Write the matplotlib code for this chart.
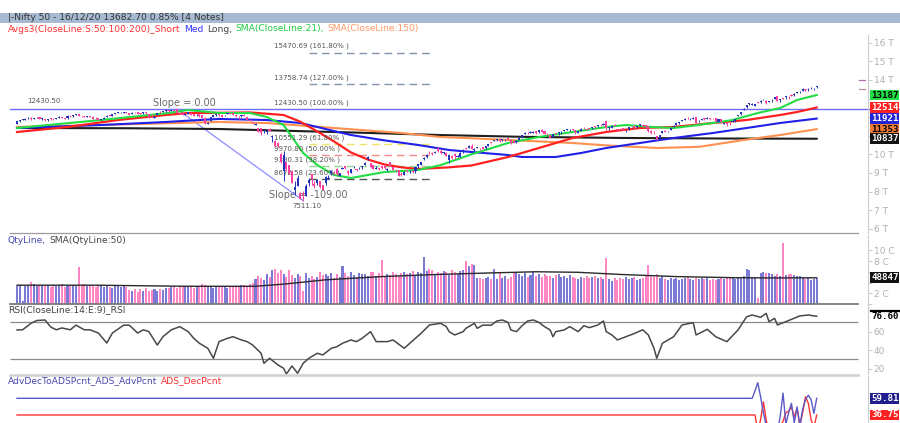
import numpy as np
import matplotlib.pyplot as plt
from matplotlib.lines import Line2D
from matplotlib.patches import Rectangle
import matplotlib.transforms as mtransforms

# Daily Nifty 50 candles, bar 0 = 29 Oct 2019 ... bar 285 = 16 Dec 2020
opens = [11650, 11800, 11860, 11870, 11930, 11960, 11920, 11990, 12000, 11900,
         11910, 11850, 11900, 11910, 11900, 11960, 11990, 11960, 11930, 12080,
         12050, 12130, 12140, 12070, 12050, 11990, 12050, 12030, 11940, 11950,
         11870, 11920, 12010, 12100, 12080, 12180, 12240, 12270, 12240, 12270,
         12210, 12160, 12270, 12250, 12200, 12200, 12260, 12170, 12080, 11940,
         12120, 12270, 12290, 12330, 12350, 12350, 12370, 12430, 12200, 12200,
         12120, 12180, 12200, 12150, 12100, 12150, 12100, 11940, 11630, 11800,
         12000, 12120, 12150, 12100, 12090, 12150, 12200, 12200, 12130, 12030,
         12040, 12120, 11980, 11870, 11740, 11580, 11390, 11390, 11290, 11180,
         11360, 10940, 10740, 10600, 10040, 9110, 9590, 9400, 9090, 8060,
         8290, 7940, 7850, 7740, 8450, 8950, 8390, 8470, 8580, 8360,
         8450, 8690, 8970, 9000, 9200, 8850, 9210, 9390, 9120, 8990,
         9300, 9170, 9240, 9300, 9410, 9750, 9530, 9420, 9230, 9260,
         9380, 9350, 9160, 9580, 9310, 9180, 9160, 8960, 8900, 9120,
         9030, 9100, 9080, 9370, 9420, 9730, 9880, 10080, 10060, 10060,
         10330, 10180, 10070, 10090, 9680, 9920, 10010, 9880, 9860, 10120,
         10320, 10350, 10470, 10240, 10340, 10320, 10380, 10330, 10470, 10610,
         10720, 10770, 10820, 10760, 10760, 10850, 10750, 10700, 10640, 10750,
         10920, 11090, 11170, 11150, 11150, 11230, 11180, 11280, 11250, 11110,
         11060, 10950, 11150, 11120, 11190, 11250, 11320, 11290, 11340, 11310,
         11160, 11250, 11410, 11370, 11380, 11400, 11500, 11500, 11580, 11600,
         11780, 11430, 11420, 11600, 11350, 11360, 11400, 11230, 11340, 11460,
         11540, 11450, 11550, 11560, 11550, 11530, 11230, 11170, 11000, 10860,
         11140, 11270, 11230, 11300, 11490, 11560, 11680, 11790, 11850, 11970,
         11930, 11920, 11990, 11730, 11840, 11900, 11920, 11930, 11940, 11940,
         11730, 11880, 11630, 11680, 11700, 11720, 11780, 12060, 12160, 12400,
         12560, 12680, 12650, 12610, 12830, 12830, 12900, 12880, 12810, 12910,
         12970, 13130, 12910, 13010, 13060, 13120, 13150, 13180, 13270, 13390,
         13430, 13490, 13490, 13540, 13550, 13600]
highs = [11800, 11860, 11920, 11930, 11980, 11980, 11970, 12030, 12020, 11940,
         11920, 11900, 11930, 11950, 11960, 12040, 12020, 11970, 12090, 12090,
         12110, 12160, 12150, 12080, 12060, 12050, 12080, 12040, 11990, 11960,
         11920, 11990, 12100, 12120, 12180, 12230, 12270, 12290, 12290, 12280,
         12220, 12260, 12290, 12250, 12220, 12290, 12270, 12180, 12150, 12050,
         12230, 12310, 12340, 12380, 12360, 12390, 12390, 12430, 12230, 12230,
         12190, 12270, 12220, 12160, 12160, 12150, 12100, 12020, 11750, 11990,
         12100, 12160, 12160, 12100, 12130, 12230, 12230, 12250, 12160, 12050,
         12130, 12160, 12010, 11880, 11760, 11670, 11400, 11430, 11340, 11330,
         11390, 11030, 10750, 10670, 10050, 10160, 9600, 9400, 9130, 8580,
         8880, 8000, 8040, 8380, 8750, 8950, 8580, 8680, 8590, 8360,
         8820, 8900, 9130, 9110, 9260, 9000, 9320, 9390, 9140, 9220,
         9390, 9220, 9300, 9390, 9600, 9890, 9550, 9450, 9350, 9280,
         9390, 9440, 9250, 9580, 9320, 9190, 9160, 9030, 9090, 9180,
         9150, 9160, 9330, 9500, 9600, 9830, 9990, 10180, 10110, 10180,
         10330, 10290, 10150, 10110, 9990, 9940, 10050, 9970, 10110, 10270,
         10360, 10480, 10550, 10340, 10400, 10340, 10400, 10440, 10560, 10630,
         10780, 10820, 10850, 10820, 10800, 10890, 10760, 10760, 10760, 10910,
         11030, 11180, 11200, 11240, 11230, 11240, 11310, 11340, 11270, 11160,
         11060, 11110, 11160, 11210, 11230, 11290, 11370, 11340, 11370, 11310,
         11260, 11400, 11460, 11380, 11420, 11470, 11530, 11560, 11610, 11690,
         11800, 11490, 11550, 11610, 11380, 11420, 11440, 11300, 11460, 11490,
         11560, 11540, 11620, 11580, 11590, 11540, 11300, 11230, 11000, 11060,
         11240, 11280, 11260, 11430, 11580, 11680, 11750, 11850, 11940, 11990,
         11950, 11980, 12020, 11830, 11900, 11930, 12020, 11940, 11970, 11940,
         11900, 11880, 11700, 11710, 11730, 11820, 11920, 12130, 12280, 12470,
         12640, 12770, 12740, 12730, 12830, 12900, 12960, 12900, 12880, 12970,
         13080, 13150, 13000, 13040, 13130, 13130, 13220, 13280, 13370, 13430,
         13550, 13500, 13540, 13600, 13590, 13690]
lows = [11640, 11760, 11820, 11850, 11900, 11870, 11880, 11960, 11890, 11870,
        11810, 11800, 11860, 11860, 11880, 11950, 11950, 11880, 11920, 12000,
        12020, 12110, 12040, 12000, 11980, 11980, 12000, 11900, 11920, 11840,
        11830, 11910, 12000, 12040, 12060, 12160, 12200, 12240, 12230, 12200,
        12110, 12150, 12230, 12150, 12160, 12190, 12190, 11970, 12010, 11930,
        12110, 12230, 12260, 12300, 12280, 12330, 12320, 12200, 12150, 12090,
        12090, 12170, 12110, 12040, 12080, 12010, 11930, 11630, 11610, 11790,
        11980, 12080, 12070, 11990, 12060, 12140, 12140, 12090, 12030, 11910,
        12030, 12070, 11820, 11780, 11660, 11550, 11180, 11040, 11140, 11110,
        11230, 10670, 10400, 10380, 9510, 8560, 9160, 8920, 8440, 7830,
        8280, 7580, 7511, 7740, 8280, 8360, 8210, 8360, 8200, 8060,
        8360, 8690, 8910, 8960, 8880, 8830, 9190, 9200, 8910, 8990,
        9290, 9120, 9220, 9210, 9400, 9710, 9270, 9190, 9220, 9150,
        9230, 9230, 9120, 9370, 9130, 9060, 8810, 8820, 8880, 9070,
        8970, 9000, 9000, 9290, 9400, 9720, 9820, 10040, 9950, 10050,
        10120, 10020, 10040, 9890, 9540, 9730, 9730, 9840, 9840, 10070,
        10290, 10350, 10280, 10190, 10320, 10220, 10290, 10300, 10460, 10560,
        10700, 10720, 10680, 10740, 10720, 10780, 10580, 10590, 10600, 10750,
        10900, 11080, 11090, 11140, 11140, 11110, 11170, 11180, 11080, 11030,
        10880, 10930, 11070, 11050, 11110, 11230, 11300, 11250, 11280, 11110,
        11130, 11250, 11370, 11280, 11350, 11380, 11420, 11490, 11520, 11590,
        11330, 11330, 11400, 11500, 11250, 11310, 11290, 11190, 11330, 11410,
        11420, 11430, 11540, 11490, 11480, 11220, 11080, 11080, 10790, 10860,
        11120, 11180, 11180, 11290, 11460, 11560, 11640, 11780, 11830, 11900,
        11870, 11900, 11660, 11720, 11830, 11830, 11910, 11830, 11880, 11750,
        11720, 11720, 11610, 11540, 11560, 11710, 11760, 12050, 12130, 12370,
        12480, 12640, 12640, 12570, 12740, 12770, 12900, 12730, 12790, 12830,
        12960, 12840, 12830, 12950, 12960, 12980, 13120, 13130, 13270, 13310,
        13400, 13400, 13400, 13520, 13470, 13580]
closes = [11787, 11844, 11877, 11890, 11941, 11917, 11966, 12012, 11908, 11913,
          11840, 11872, 11895, 11884, 11940, 11999, 11968, 11914, 12074, 12037,
          12100, 12151, 12056, 12048, 11994, 12044, 12018, 11921, 11937, 11857,
          11910, 11972, 12086, 12053, 12165, 12221, 12259, 12272, 12262, 12214,
          12126, 12246, 12255, 12168, 12182, 12282, 12226, 11993, 12053, 12025,
          12216, 12257, 12329, 12362, 12343, 12355, 12352, 12224, 12170, 12106,
          12180, 12248, 12119, 12055, 12129, 12035, 11962, 11662, 11708, 11980,
          12089, 12137, 12098, 12032, 12108, 12201, 12175, 12113, 12046, 11993,
          12126, 12081, 11829, 11798, 11678, 11633, 11202, 11132, 11303, 11251,
          11270, 10989, 10451, 10458, 9590, 9955, 9197, 8967, 8469, 8263,
          8745, 7610, 7801, 8318, 8641, 8660, 8281, 8598, 8254, 8084,
          8792, 8748, 9111, 8994, 8925, 8992, 9267, 9262, 8981, 9187,
          9313, 9154, 9282, 9380, 9553, 9860, 9293, 9205, 9270, 9199,
          9251, 9239, 9197, 9383, 9142, 9137, 8824, 8879, 9067, 9106,
          9039, 9029, 9315, 9490, 9580, 9826, 9980, 10061, 10029, 10142,
          10167, 10046, 10116, 9902, 9972, 9813, 9914, 9881, 10091, 10244,
          10311, 10471, 10305, 10288, 10383, 10312, 10302, 10430, 10552, 10607,
          10764, 10800, 10706, 10813, 10768, 10802, 10607, 10618, 10740, 10902,
          11022, 11162, 11132, 11215, 11194, 11131, 11300, 11202, 11102, 11073,
          10892, 11095, 11101, 11200, 11214, 11270, 11322, 11308, 11300, 11178,
          11247, 11385, 11408, 11312, 11372, 11466, 11472, 11549, 11559, 11647,
          11388, 11470, 11535, 11527, 11333, 11355, 11318, 11278, 11449, 11464,
          11440, 11521, 11604, 11516, 11505, 11250, 11153, 11132, 10805, 11050,
          11227, 11222, 11248, 11417, 11503, 11662, 11738, 11834, 11914, 11930,
          11934, 11971, 11680, 11762, 11873, 11896, 11937, 11896, 11930, 11768,
          11889, 11730, 11670, 11642, 11669, 11813, 11908, 12120, 12263, 12461,
          12631, 12749, 12691, 12720, 12780, 12874, 12938, 12771, 12859, 12926,
          13055, 12858, 12987, 12969, 13109, 13113, 13134, 13258, 13356, 13393,
          13529, 13478, 13514, 13558, 13567, 13682]

# QtyLine, in "C" units of the right axis
volume = [3.3, 3.5, 0.5, 3.4, 3.6, 4.1, 3.8, 3.4, 3.5, 3.6, 3.3, 3.5, 3.2, 3.6, 3.4, 3.3, 3.7, 3.2, 3.5, 3.4, 3.6, 3.3,
          6.9,
          3.5, 3.7, 3.3, 3.6, 3.4, 3.2, 3.5, 3.3, 3.1, 3.4, 3.2, 3.0, 3.3, 3.5, 3.2, 3.4, 3.1,
          2.6, 2.4, 2.8, 2.3, 2.7, 2.5, 2.9, 2.4, 2.6, 2.8, 2.5, 2.7, 2.6, 2.9, 3.0,
          3.1, 3.3, 3.0, 3.2, 3.4, 3.1, 3.3, 3.2, 3.0, 3.4, 3.2, 3.8, 3.5, 3.3, 3.1, 3.0, 3.2, 3.4, 3.1, 3.3,
          3.0, 3.2, 3.4, 3.3, 3.1, 3.5, 3.6, 3.4, 3.7, 4.0,
          4.6, 5.2, 4.8, 4.5, 5.5, 5.0, 6.3, 6.6, 5.8, 6.4, 5.6, 5.0, 6.4, 5.4, 4.8, 5.6, 5.3,
          2.5, 5.7, 4.8, 5.2, 4.6, 5.0, 6.0, 5.4, 5.6, 5.2, 5.8, 4.9, 5.5, 5.1,
          7.1,
          5.7, 5.3, 5.9, 5.4, 5.0, 5.8, 5.5, 5.6, 5.2, 5.9, 6.0, 5.3, 5.7,
          8.2,
          5.1, 5.6, 5.4, 5.9, 5.5, 5.3, 5.8, 6.0, 5.5, 5.7, 6.1, 5.4, 5.9, 5.8,
          8.7,
          6.2, 6.5, 6.3, 5.6, 6.0, 5.8, 6.2, 6.0, 5.4, 6.3, 5.9, 5.6, 6.1, 6.4,
          8.0, 7.0, 7.4, 7.2,
          4.9, 4.8, 4.6, 4.8, 5.0, 4.7, 6.5, 4.6, 5.8, 4.9, 5.3, 4.7, 5.0,
          5.8, 6.0, 5.5, 5.2, 5.7, 5.0, 5.4, 5.9, 5.3, 5.6, 5.1, 5.5, 5.2, 5.3, 4.9, 5.4, 5.5, 5.0, 5.2, 4.9,
          5.4, 5.1, 4.8,
          4.7, 5.0, 4.8, 5.2, 4.9, 5.1, 5.3, 4.9, 5.0, 4.6,
          8.5,
          4.6, 4.2, 4.8, 4.4, 4.9, 4.6, 5.0, 4.7, 4.8, 5.1, 4.5, 4.6, 4.9, 5.2,
          7.3,
          5.4, 5.0, 5.6, 4.8, 5.2, 4.7, 4.5, 4.9, 4.6, 4.8, 4.4, 4.7, 4.9, 5.0, 4.6, 4.5, 4.8, 4.7, 4.9, 4.6,
          4.8, 4.5, 4.7, 4.4, 4.6, 4.8, 4.7, 5.0, 4.9, 5.1, 4.6, 5.0, 4.8, 5.2,
          6.5, 6.4, 5.0, 5.1, 1.2,
          5.8, 5.9, 5.7, 5.8, 5.6, 5.3, 5.5, 5.2,
          11.3,
          5.4, 5.6, 5.5, 5.4, 5.3, 5.2, 5.0, 4.6, 4.8, 4.4, 4.7, 4.8]

# moving averages (bar index, value)
sma21_bar = [0, 30, 54, 61, 72, 83, 89, 95, 98, 102, 107, 113, 119, 125, 131, 143, 151, 162, 175, 186,
             198, 210, 217, 226, 234, 240, 248, 255, 264, 272, 278, 285]
sma21_val = [11414, 11844, 12220, 12382, 12220, 12220, 12006, 11575, 10930, 10070, 9425, 8887, 8726, 8887,
             9048, 9156, 9420, 10000, 10608, 10930, 11199, 11468, 11575, 11468, 11414, 11522, 11683, 11844,
             12220, 12489, 12919, 13187]
short_bar = [0, 18, 36, 53, 61, 72, 83, 95, 101, 107, 113, 119, 125, 131, 137, 143, 154, 162, 175, 186,
             198, 210, 222, 234, 248, 260, 272, 278, 285]
short_val = [11199, 11468, 11844, 12113, 12220, 12230, 12250, 12113, 11750, 11230, 10690, 10100, 9720,
             9450, 9300, 9210, 9300, 9400, 9855, 10339, 10876, 11199, 11414, 11468, 11683, 11844, 12113,
             12274, 12514]
med_bar = [0, 30, 53, 65, 72, 89, 101, 113, 119, 130, 143, 154, 162, 175, 180, 192, 201, 210, 222, 234,
           248, 260, 272, 285]
med_val = [11414, 11575, 11737, 11844, 11900, 11844, 11683, 11252, 11038, 10769, 10500, 10231, 10124,
           9962, 9855, 9855, 10070, 10339, 10608, 10876, 11145, 11414, 11683, 11921]
sma150_bar = [0, 72, 89, 113, 137, 151, 160, 175, 198, 210, 228, 243, 259, 272, 285]
sma150_val = [11468, 11737, 11683, 11414, 11145, 10930, 10876, 10769, 10608, 10480, 10339, 10400, 10769,
              11038, 11353]
long_bar = [0, 40, 72, 100, 125, 150, 180, 215, 250, 285]
long_val = [11414, 11400, 11360, 11250, 11150, 11040, 10940, 10880, 10850, 10837]

vsma_bar = [0, 28, 60, 85, 95, 110, 130, 150, 170, 185, 200, 215, 235, 255, 270, 285]
vsma_val = [3.5, 3.5, 3.3, 3.3, 3.7, 4.5, 5.1, 5.5, 5.8, 6.0, 5.9, 5.5, 5.1, 4.9, 4.85, 4.88]

rsi_bar = [0, 2, 5, 7, 10, 12, 14, 16, 19, 21, 24, 26, 29, 32, 34, 38, 40, 43, 45, 47,
           50, 52, 55, 58, 61, 63, 65, 68, 70, 72, 75, 77, 80, 82, 84, 87, 88, 90, 93, 95,
           96, 98, 100, 102, 104, 107, 109, 112, 114, 116, 119, 121, 123, 126, 128, 132, 134, 138, 140, 144,
           147, 151, 153, 154, 156, 159, 160, 163, 164, 166, 169, 171, 173, 175, 176, 178, 180, 182, 184, 186,
           188, 190, 191, 192, 195, 197, 200, 202, 204, 207, 209, 210, 212, 214, 217, 220, 223, 225, 227, 228,
           230, 234, 237, 241, 242, 246, 249, 253, 257, 260, 262, 265, 267, 268, 270, 271, 274, 279, 282, 285]
rsi_val = [61.8, 62, 69, 72, 72.6, 65, 62, 64, 62, 67, 62, 62, 58.5, 47.7, 58.5, 67, 67, 58.5, 62, 60,
           45.5, 54.5, 62, 65.4, 60, 52.8, 47.4, 42, 31.2, 49.2, 52.8, 54.5, 51, 49.2, 45.5, 36.6, 25.8, 31.2, 24, 20.4,
           14.2, 22.9, 15, 25.8, 31.2, 36.6, 34.8, 42, 43.7, 47.4, 51, 49.2, 52.8, 60, 49.2, 49.2, 51, 42, 47.4, 58.2,
           67.2, 69, 65.4, 60, 56.4, 60, 63.6, 69, 63.6, 67, 67, 71.5, 72.6, 70, 61.8, 60, 66.4, 71.5, 72.6, 70,
           65.4, 61.8, 54.5, 60, 61.8, 65.4, 60, 66.4, 64.3, 67.2, 71.5, 60, 56.4, 51, 54.5, 58, 62, 56.4, 42, 31.2,
           47.4, 54.5, 67.2, 69.7, 56.4, 62.5, 54.5, 49.2, 62, 76, 78, 75.5, 79.8, 70.8, 74.4, 67.2, 70.8, 77, 78, 76.6]

ads_bar = [0, 262, 263, 264, 265, 266, 267, 268, 269, 270, 271, 272, 273, 274, 275, 276, 277, 278, 279,
           280, 281, 282, 283, 284, 285]
ads_adv = [59.81, 59.81, 70, 81.4, 62, 40, 22, 12, 8, 10, 14, 35, 67, 24, 40, 53, 26, 48, 22, 45, 58, 64,
           58, 39, 59.81]
ads_dec = [36.75, 36.75, 36.75, 15, 30, 55, 30, 12, 5, 5, 10, 22, 28, 40, 42, 48, 34, 46, 22, 40, 62, 53,
           30, 20, 36.75]

fib_level = [15470.69, 13758.74, 12430.50, 10551.29, 9970.80, 9390.31, 8672.58]
fib_pct = ["161.80%", "127.00%", "100.00%", "61.80%", "50.00%", "38.20%", "23.60%"]
fib_color = ["#8095ad", "#8095ad", None, "#f2e46a", "#f28a8a", "#95d595", "#555555"]

last_ma = [13187, 12514, 11921, 11353, 10837]
last_ma_style = [("#22dd44", "black"), ("#ff2020", "white"), ("#2424d8", "white"),
                 ("#f07a38", "black"), ("#141414", "white")]

for arr in (opens, highs, lows, closes, volume):
    assert len(arr) == 286, len(arr)

W, H = 900, 423
fig = plt.figure(figsize=(W / 100, H / 100), dpi=100)

X0, X1 = 10, 868
XLIM = ((X0 - 17) / 2.806, (X1 - 17) / 2.806)
XEND = (858 - 17) / 2.806


def panel(top, bottom):
    a = fig.add_axes([X0 / W, 1 - bottom / H, (X1 - X0) / W, (bottom - top) / H])
    a.set_xlim(*XLIM)
    a.set_xticks([])
    a.patch.set_alpha(0)
    for s in ("top", "left", "bottom"):
        a.spines[s].set_visible(False)
    a.spines["right"].set_color("#cccccc")
    a.spines["right"].set_linewidth(0.8)
    a.yaxis.tick_right()
    a.tick_params(axis="y", direction="out", length=3, width=0.6, color="#c0c0c0",
                  labelcolor="#b0b0b0", labelsize=6.5, pad=1)
    return a


def fig_line(y, x0, x1, color, lw):
    fig.add_artist(Line2D([x0 / W, x1 / W], [1 - y / H, 1 - y / H], transform=fig.transFigure,
                          color=color, lw=lw))


def seq_text(x, y, parts, size, gap=3.5):
    r = fig.canvas.get_renderer()
    for s, col in parts:
        t = fig.text(x / W, 1 - y / H, s, color=col, fontsize=size, va="center", ha="left")
        x = t.get_window_extent(renderer=r).x1 + gap


def side_box(a, y, s, fc, tc, size=6.6):
    tr = mtransforms.blended_transform_factory(a.transAxes, a.transData)
    a.text((871 - X0) / (X1 - X0), y, s, transform=tr, ha="left", va="center", color=tc,
           fontsize=size, family="DejaVu Sans Mono", fontweight="bold", clip_on=False,
           bbox=dict(boxstyle="square,pad=0.1", fc=fc, ec="none"), zorder=10)


idx = np.arange(len(closes))
o = np.array(opens, float)
c = np.array(closes, float)
up = c >= o

# ---------------- price panel
ax = panel(35, 233)
ax.set_ylim(5769, 16414)
ax.set_yticks(np.arange(6000, 16001, 1000))
# 11 T .. 13 T sit under the value boxes
ax.set_yticklabels([("" if k in (11, 12, 13) else f"{k} T") for k in range(6, 17)])

cc = np.where(up, "#2233bb", "#ff3d9e")
ax.vlines(idx, lows, highs, colors=cc, lw=0.7, zorder=5)
ax.bar(idx, np.maximum(np.abs(c - o), 30), bottom=np.minimum(o, c), width=0.75, color=cc, lw=0, zorder=6)

ax.plot(long_bar, long_val, color="#1e1e1e", lw=1.5, zorder=3)
ax.plot(sma150_bar, sma150_val, color="#ff9050", lw=1.5, zorder=3)
ax.plot(med_bar, med_val, color="#2020e8", lw=1.5, zorder=3)
ax.plot(short_bar, short_val, color="#ff2020", lw=1.6, zorder=3)
ax.plot(sma21_bar, sma21_val, color="#22dd44", lw=1.5, zorder=3)

# 12430.50 horizontal trend line, runs under the value boxes
trx = mtransforms.blended_transform_factory(ax.transAxes, ax.transData)
ax.plot([0, (W - X0) / (X1 - X0)], [fib_level[2]] * 2, transform=trx, color="#6f6fff", lw=1,
        clip_on=False, zorder=2)
ax.plot([57, 102], [12430.5, 7511.1], color="#8c8cff", lw=0.9, zorder=2)

for lev, pct, col in zip(fib_level, fib_pct, fib_color):
    if col is not None:
        ax.plot([104, 148], [lev, lev], color=col, lw=1, dashes=(5.5, 3.5), zorder=2)
    ax.annotate(f"{lev:.2f} ({pct} )", (91.5, lev), xytext=(0, 4.6), textcoords="offset points",
                fontsize=5, color="#555555", va="center", ha="left", zorder=4)

ax.text(3.6, 12866, "12430.50", fontsize=5, color="#555555", va="center", ha="left")
ax.text(59.8, 12780, "Slope = 0.00", fontsize=7, color="#6a6a6a", va="center", ha="center")
ax.text(103.7, 7812, "Slope = -109.00", fontsize=7, color="#6a6a6a", va="center", ha="center", zorder=1)
ax.text(103.5, 7210, "7511.10", fontsize=5, color="#555555", va="center", ha="center")

for v, (fc, tc) in zip(last_ma, last_ma_style):
    side_box(ax, v, str(v), fc, tc)

# ---------------- volume panel
axv = panel(235, 304)
axv.set_ylim(0, 12.84)
axv.set_yticks([0, 2, 4, 6, 8, 10])
axv.set_yticklabels(["", "2 C", "", "", "8 C", "10 C"])
axv.bar(idx, volume, width=0.72, color=np.where(up, "#7b7bd6", "#ff86c3"), lw=0, zorder=2)
axv.plot(vsma_bar, vsma_val, color="#2a2a2a", lw=1, zorder=3)
side_box(axv, 4.8847, "48847", "#111111", "white")

# ---------------- RSI panel
axr = panel(305, 374)
axr.set_ylim(14.2, 88.8)
axr.set_yticks([20, 40, 60])
axr.hlines([70, 30], XLIM[0], XEND, color="#8a8a8a", lw=0.9, zorder=1)
axr.plot(rsi_bar, rsi_val, color="#484848", lw=1.1, zorder=3)
side_box(axr, 76.6, "76.60", "white", "black")
fig_line(310.5, 871, 900, "black", 1.6)

# ---------------- ADS panel
axa = panel(376, 423)
axa.set_ylim(25.7, 90.6)
axa.set_yticks([])
axa.plot(ads_bar, ads_adv, color="#5a5ac8", lw=1, zorder=3)
axa.plot(ads_bar, ads_dec, color="#ff3333", lw=1, zorder=2)
side_box(axa, 59.81, "59.81", "#1e1e8e", "white")
side_box(axa, 36.75, "36.75", "#ff2222", "white")

# ---------------- separators and headers
fig_line(233.5, 10, 858, "#9a9a9a", 0.9)
fig_line(304, 10, 858, "#7a7a7a", 1.3)
fig_line(374.5, 10, 858, "#d0d0d0", 1.8)
fig_line(80, 859, 865, "#b070b0", 0.9)
fig_line(89, 859, 865, "#c09090", 0.9)

fig.add_artist(Rectangle((0, 1 - 22.7 / H), 1, 10 / H, transform=fig.transFigure,
                         fc="#a6bad1", ec="none", zorder=0))
fig.text(8 / W, 1 - 17.7 / H, "|-Nifty 50 - 16/12/20 13682.70 0.85% [4 Notes]", fontsize=6.6,
         color="#333333", va="center", ha="left")
seq_text(8, 29, [("Avgs3(CloseLine:S:50:100:200)_Short", "#ff3030"), ("Med", "#3333ff"),
                 ("Long,", "#444444"), ("SMA(CloseLine:21),", "#22cc44"),
                 ("SMA(CloseLine:150)", "#ff9966")], 6.6)
seq_text(8, 240, [("QtyLine,", "#4848b0"), ("SMA(QtyLine:50)", "#444444")], 6.6)
seq_text(8, 310, [("RSI(CloseLine:14:E:9)_RSI", "#444444")], 6.6)
seq_text(8, 381, [("AdvDecToADSPcnt_ADS_AdvPcnt", "#4848b0"), ("ADS_DecPcnt", "#ff3030")], 6.6)

fig.savefig("out.png", dpi=100)
